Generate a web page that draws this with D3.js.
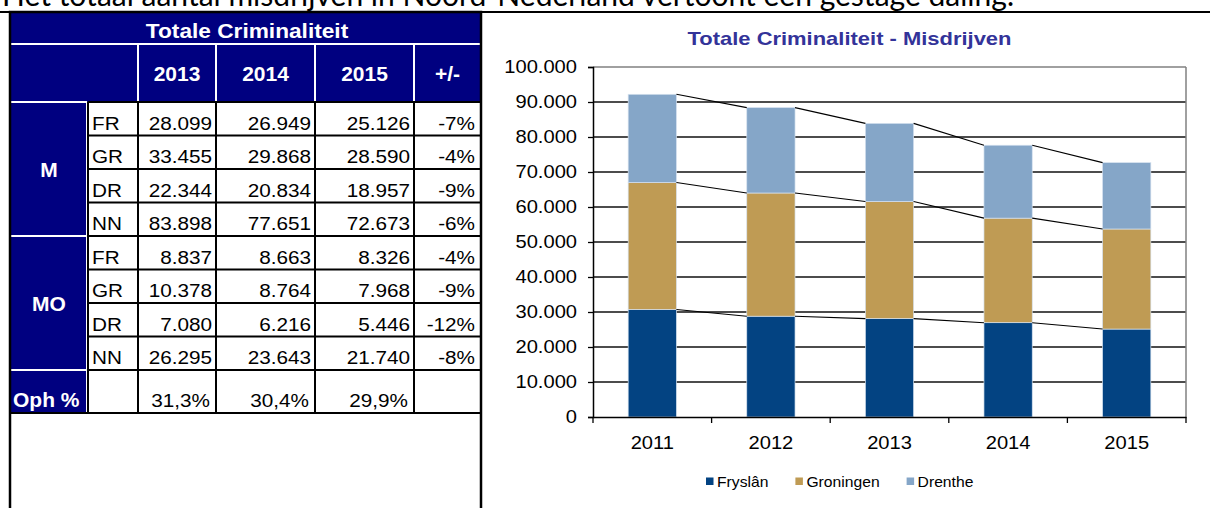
<!DOCTYPE html>
<html>
<head>
<meta charset="utf-8">
<script src="https://cdn.jsdelivr.net/npm/d3@7"></script>
<style>
  html, body { margin: 0; padding: 0; background: #fff; }
  svg { display: block; font-family: "Liberation Sans", Arial, sans-serif; }
</style>
</head>
<body>
<svg id="chart" width="1210" height="508"></svg>
<script>
// ---------------- DATA ----------------
const headline = "Het totaal aantal misdrijven in Noord-Nederland vertoont een gestage daling.";
const tableTitle = "Totale Criminaliteit";
const tableYears = ["2013", "2014", "2015"];
const changeHeader = "+/-";
const regionCodes = ["FR", "GR", "DR", "NN"];
const groupLabels = ["M", "MO"];
const mValues = [[28099, 26949, 25126], [33455, 29868, 28590], [22344, 20834, 18957], [83898, 77651, 72673]];
const mChange = ["-7%", "-4%", "-9%", "-6%"];
const moValues = [[8837, 8663, 8326], [10378, 8764, 7968], [7080, 6216, 5446], [26295, 23643, 21740]];
const moChange = ["-4%", "-9%", "-12%", "-8%"];
const ophLabel = "Oph %";
const ophPct = ["31,3%", "30,4%", "29,9%"];

const chartTitle = "Totale Criminaliteit - Misdrijven";
const years = ["2011", "2012", "2013", "2014", "2015"];
const seriesNames = ["Fryslân", "Groningen", "Drenthe"];
const fryslan = [30700, 28800, 28099, 26949, 25126];
const groningen = [36300, 35200, 33455, 29868, 28590];
const drenthe = [25200, 24400, 22344, 20834, 18957];
const yTicks = [0, 10000, 20000, 30000, 40000, 50000, 60000, 70000, 80000, 90000, 100000];
const seriesColors = ["#034382", "#bf9b54", "#85a6c8"];

// ---------------- HELPERS ----------------
const loc = d3.formatLocale({ decimal: ",", thousands: ".", grouping: [3], currency: ["€", ""] });
const fmt = loc.format(",d");
const svg = d3.select("#chart");

function stext(g, x, y, str, o) {
  return g.append("text")
    .attr("transform", `translate(${x},${y}) scale(${o.sx},1)`)
    .attr("text-anchor", o.anchor || "start")
    .attr("font-size", o.size)
    .attr("font-weight", o.weight || "normal")
    .attr("fill", o.fill || "#000")
    .text(str);
}
function line(g, x1, y1, x2, y2, color, w) {
  g.append("line").attr("x1", x1).attr("y1", y1).attr("x2", x2).attr("y2", y2)
    .attr("stroke", color).attr("stroke-width", w);
}

// ---------------- HEADLINE ----------------
svg.append("text")
  .attr("x", 2).attr("y", 5.5)
  .attr("font-family", "Lato, 'Open Sans', sans-serif")
  .attr("font-size", 30)
  .attr("textLength", 1012)
  .attr("lengthAdjust", "spacingAndGlyphs")
  .attr("fill", "#000")
  .text(headline);
line(svg, 0, 12, 1210, 12, "#000", 2);

// ---------------- TABLE ----------------
const T = svg.append("g");
const navy = "#000080";
const colX = [10, 88, 138, 216, 315, 414, 481];
const rowTop = 102, rowH = 33.5, ophBottom = 413;
const rowY = d3.range(9).map(i => rowTop + i * rowH);

T.append("rect").attr("x", 10).attr("y", 12).attr("width", 471).attr("height", 90).attr("fill", navy);
T.append("rect").attr("x", 10).attr("y", 102).attr("width", 78).attr("height", ophBottom - 102).attr("fill", navy);
line(T, 10, 44, 481, 44, "#fff", 2);
[138, 216, 315, 414].forEach(x => line(T, x, 44, x, 102, "#fff", 2));
[102, rowY[4], rowY[8]].forEach(y => line(T, 10, y, 87, y, "#fff", 2));
line(T, 86.5, 102, 86.5, ophBottom, "#fff", 1);
rowY.concat([ophBottom]).forEach(y => line(T, 88, y, 481, y, "#000", 2));
[88, 138, 216, 315, 414].forEach(x => line(T, x, 102, x, ophBottom, "#000", 2));
line(T, 10, ophBottom, 481, ophBottom, "#000", 2);
T.append("rect").attr("x", 10).attr("y", 12).attr("width", 471).attr("height", 520)
  .attr("fill", "none").attr("stroke", "#000").attr("stroke-width", 2.5);

const bold = { size: 20, weight: "bold", fill: "#fff", sx: 1.05, anchor: "middle" };
stext(T, 247, 38, tableTitle, Object.assign({}, bold, { size: 21, sx: 1.08 }));
tableYears.forEach((yr, i) => stext(T, (colX[2 + i] + colX[3 + i]) / 2, 81, yr, bold));
stext(T, (colX[5] + colX[6]) / 2, 81, changeHeader, bold);
groupLabels.forEach((g, i) => stext(T, 49, (rowY[i * 4] + rowY[i * 4 + 4]) / 2 + 8, g, bold));
stext(T, 13, 407, ophLabel, Object.assign({}, bold, { anchor: "start" }));

const reg = { size: 18.5, sx: 1.12, fill: "#000" };
[[mValues, mChange], [moValues, moChange]].forEach(([vals, chg], gi) => {
  vals.forEach((row, ri) => {
    const base = rowY[gi * 4 + ri + 1] - 6;
    stext(T, 92, base, regionCodes[ri], Object.assign({}, reg, { anchor: "start" }));
    row.forEach((v, ci) => stext(T, colX[3 + ci] - 4, base, fmt(v), Object.assign({}, reg, { anchor: "end" })));
    stext(T, colX[6] - 6, base, chg[ri], Object.assign({}, reg, { anchor: "end" }));
  });
});
ophPct.forEach((p, ci) => stext(T, colX[3 + ci] - 6, 407, p, Object.assign({}, reg, { anchor: "end" })));

// ---------------- CHART ----------------
const C = svg.append("g");
const plotL = 593, plotR = 1186, plotT = 67, plotB = 417;
const x = d3.scaleBand().domain(years).range([plotL, plotR]).paddingInner(0.593).paddingOuter(0.2965);
const y = d3.scaleLinear().domain([0, 100000]).range([plotB, plotT]);
const sx = 1.15, fs = 17.5;

stext(C, 849.5, 44.5, chartTitle, { size: 18, weight: "bold", fill: "#333399", sx: 1.22, anchor: "middle" });

yTicks.filter(t => t > 0 && t < 100000).forEach(t => line(C, plotL, y(t), plotR, y(t), "#111", 1.3));
line(C, plotL, y(100000), plotR, y(100000), "#808080", 1.5);
line(C, plotR, y(100000), plotR, plotB, "#808080", 1.5);

const rows = years.map((yr, i) => ({ year: yr, f: fryslan[i], g: groningen[i], d: drenthe[i] }));
const stack = d3.stack().keys(["f", "g", "d"])(rows);
stack.forEach((layer, li) => {
  C.append("g").selectAll("rect").data(layer).join("rect")
    .attr("x", d => x(d.data.year))
    .attr("y", d => y(d[1]))
    .attr("width", x.bandwidth())
    .attr("height", d => y(d[0]) - y(d[1]))
    .attr("fill", seriesColors[li])
    .attr("stroke", "#d6e2ef").attr("stroke-width", 0.7);
});
stack.forEach(layer => {
  for (let i = 0; i < layer.length - 1; i++) {
    line(C, x(years[i]) + x.bandwidth(), y(layer[i][1]), x(years[i + 1]), y(layer[i + 1][1]), "#000", 1.1);
  }
});

const yAxis = C.append("g").attr("transform", `translate(${plotL},0)`)
  .call(d3.axisLeft(y).tickValues(yTicks).tickSize(5).tickFormat(fmt));
yAxis.select(".domain").attr("stroke", "#000").attr("stroke-width", 1.5);
yAxis.selectAll(".tick line").attr("stroke", "#000").attr("stroke-width", 1.3);
yAxis.selectAll("text").attr("x", null)
  .attr("transform", `translate(-16,0) scale(${sx},1)`)
  .attr("font-size", fs).attr("font-family", "Liberation Sans, Arial, sans-serif").attr("fill", "#000");

const xAxis = C.append("g").attr("transform", `translate(0,${plotB})`)
  .call(d3.axisBottom(x).tickSize(0).tickSizeOuter(0));
xAxis.select(".domain").attr("stroke", "#000").attr("stroke-width", 1.5);
xAxis.selectAll("text").attr("y", null).attr("dy", null)
  .attr("transform", `translate(0,32) scale(${sx},1)`)
  .attr("font-size", fs).attr("font-family", "Liberation Sans, Arial, sans-serif").attr("fill", "#000");
const half = (x.step() - x.bandwidth()) / 2;
years.forEach(yr => line(C, x(yr) - half, plotB, x(yr) - half, plotB + 6, "#000", 1.3));
line(C, plotR, plotB, plotR, plotB + 6, "#000", 1.3);

const L = C.append("g");
let lx = 706;
seriesNames.forEach((name, i) => {
  L.append("rect").attr("x", lx).attr("y", 477.5).attr("width", 7.5).attr("height", 7.5).attr("fill", seriesColors[i]);
  const t = stext(L, lx + 11, 486.5, name, { size: 14, sx: 1.12, anchor: "start" });
  lx += 11 + t.node().getComputedTextLength() * 1.12 + 27;
});
</script>
</body>
</html>
